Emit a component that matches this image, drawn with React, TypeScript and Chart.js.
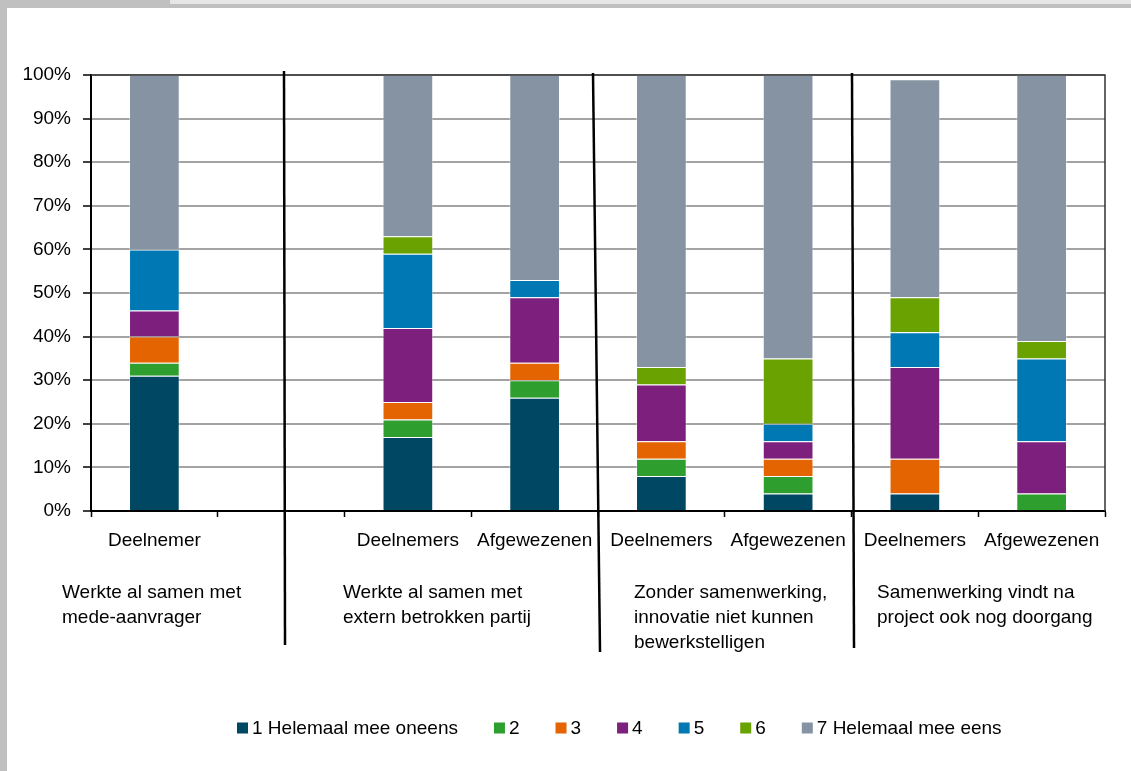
import React, { useEffect, useRef } from "react";
import { Chart, registerables } from "chart.js";

Chart.register(...registerables);

const categories = ["Deelnemer", "", "Deelnemers", "Afgewezenen", "Deelnemers", "Afgewezenen", "Deelnemers", "Afgewezenen"];
const seriesLabels = ["1 Helemaal mee oneens", "2", "3", "4", "5", "6", "7 Helemaal mee eens"];
const s1 = [31, 0, 17, 26, 8, 4, 4, 0];
const s2 = [3, 0, 4, 4, 4, 4, 0, 4];
const s3 = [6, 0, 4, 4, 4, 4, 8, 0];
const s4 = [6, 0, 17, 15, 13, 4, 21, 12];
const s5 = [14, 0, 17, 4, 0, 4, 8, 19];
const s6 = [0, 0, 4, 0, 4, 15, 8, 4];
const s7 = [40, 0, 37, 47, 67, 65, 50, 61];
const yTicks = [0, 10, 20, 30, 40, 50, 60, 70, 80, 90, 100];
const groupLabels = [
  ["Werkte al samen met", "mede-aanvrager"],
  ["Werkte al samen met", "extern betrokken partij"],
  ["Zonder samenwerking,", "innovatie niet kunnen", "bewerkstelligen"],
  ["Samenwerking vindt na", "project ook nog doorgang"],
];

const colors = ["#004763", "#2e9e2e", "#e36400", "#7d1f7c", "#0078b4", "#6aa301", "#8593a2"];
const FONT = "Liberation Sans, Arial, sans-serif";
const FS = 19;

const overlay = {
  id: "overlay",
  afterDatasetsDraw(chart: any) {
    const { ctx, chartArea: a } = chart;
    ctx.save();
    ctx.strokeStyle = "#333";
    ctx.lineWidth = 1.5;
    ctx.beginPath();
    ctx.moveTo(a.left, a.top);
    ctx.lineTo(a.right, a.top);
    ctx.lineTo(a.right, a.bottom);
    ctx.stroke();
    ctx.restore();
  },
  afterDraw(chart: any) {
    const { ctx } = chart;
    ctx.save();
    const dividers = [
      [284, 71, 285, 645],
      [593, 73, 600, 652],
      [852, 73, 854, 648],
    ];
    ctx.strokeStyle = "#000";
    ctx.lineWidth = 2.5;
    dividers.forEach(([x1, y1, x2, y2]) => {
      ctx.beginPath();
      ctx.moveTo(x1, y1);
      ctx.lineTo(x2, y2);
      ctx.stroke();
    });
    ctx.fillStyle = "#000";
    ctx.font = `${FS}px ${FONT}`;
    ctx.textAlign = "left";
    ctx.textBaseline = "alphabetic";
    const gx = [62, 343, 634, 877];
    groupLabels.forEach((lines, i) => {
      lines.forEach((t, j) => ctx.fillText(t, gx[i], 598 + j * 25));
    });
    let x = 237;
    const yc = 728;
    ctx.textBaseline = "middle";
    chart.data.datasets.forEach((ds: any) => {
      ctx.fillStyle = ds.backgroundColor;
      ctx.fillRect(x, yc - 5.5, 11, 11);
      ctx.fillStyle = "#000";
      ctx.fillText(ds.label, x + 15, yc + 1);
      x += 15 + ctx.measureText(ds.label).width + 36;
    });
    ctx.restore();
  },
};

export default function App() {
  const ref = useRef<HTMLCanvasElement | null>(null);
  useEffect(() => {
    document.body.style.margin = "0";
    const series = [s1, s2, s3, s4, s5, s6, s7];
    const chart = new Chart(ref.current as HTMLCanvasElement, {
      type: "bar",
      data: {
        labels: categories,
        datasets: series.map((s, i) => ({
          label: seriesLabels[i],
          data: s.map((v) => (v ? v : null)),
          backgroundColor: colors[i],
          borderColor: "rgba(255,255,255,0.4)",
          borderWidth: 1,
          barPercentage: 0.4,
          categoryPercentage: 1,
        })),
      },
      options: {
        animation: false,
        responsive: false,
        devicePixelRatio: 1,
        layout: { padding: { left: 0, right: 26, top: 75, bottom: 200 } },
        plugins: { legend: { display: false }, tooltip: { enabled: false }, title: { display: false } },
        scales: {
          x: {
            stacked: true,
            afterFit: (s: any) => {
              s.height = 60;
            },
            grid: {
              offset: true,
              drawOnChartArea: false,
              drawTicks: true,
              tickLength: 6,
              tickColor: "#000",
              tickWidth: 1.5,
              color: "#000",
            },
            border: { display: true, color: "#000", width: 2 },
            ticks: {
              autoSkip: false,
              maxRotation: 0,
              minRotation: 0,
              padding: 12,
              color: "#000",
              font: { family: FONT, size: FS },
            },
          },
          y: {
            stacked: true,
            min: 0,
            max: 100,
            afterFit: (s: any) => {
              s.width = 91;
            },
            afterBuildTicks: (s: any) => {
              s.ticks = yTicks.map((v) => ({ value: v }));
            },
            grid: {
              color: "#a3a3a3",
              lineWidth: 2,
              tickLength: 8,
              tickColor: "#000",
              tickWidth: 1.5,
            },
            border: { display: true, color: "#000", width: 2 },
            ticks: {
              padding: 12,
              color: "#000",
              font: { family: FONT, size: FS },
              callback: (v: any) => v + "%",
            },
          },
        },
      },
      plugins: [overlay],
    } as any);
    return () => chart.destroy();
  }, []);

  return (
    <div style={{ position: "relative", width: 1131, height: 771, background: "#fff", overflow: "hidden" }}>
      <canvas ref={ref} width={1131} height={771} style={{ position: "absolute", left: 0, top: 0, width: 1131, height: 771 }} />
      <div style={{ position: "absolute", left: 0, top: 0, width: 170, height: 4, background: "#c0c0c0" }} />
      <div style={{ position: "absolute", left: 170, top: 0, width: 961, height: 4, background: "#e6e6e6" }} />
      <div style={{ position: "absolute", left: 0, top: 4, width: 1131, height: 4, background: "#c0c0c0" }} />
      <div style={{ position: "absolute", left: 0, top: 0, width: 7, height: 771, background: "#c0c0c0" }} />
    </div>
  );
}
